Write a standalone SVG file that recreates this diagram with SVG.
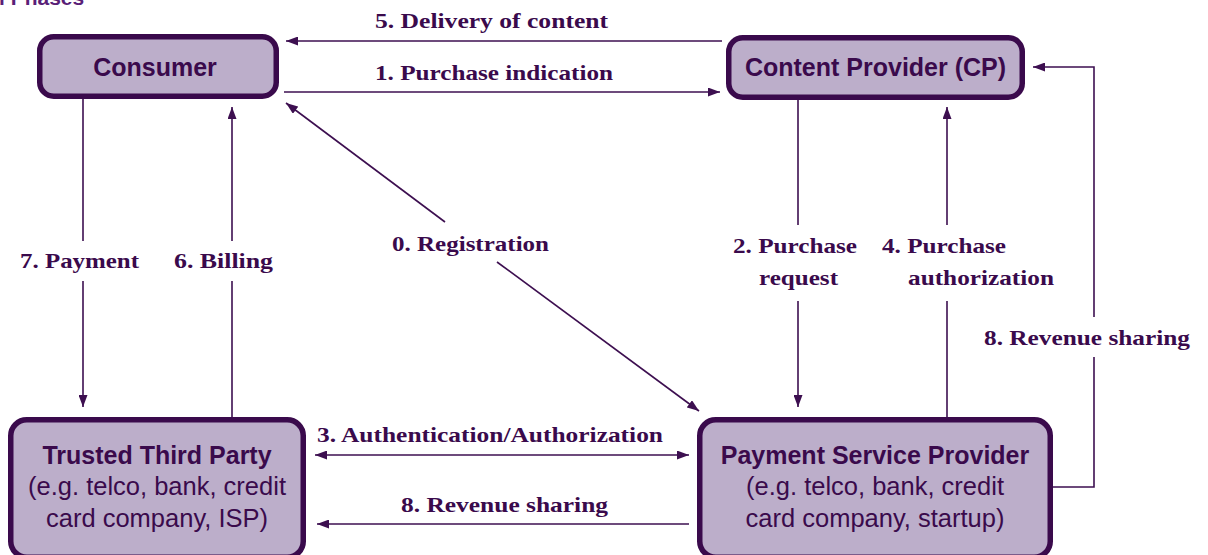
<svg xmlns="http://www.w3.org/2000/svg" width="1208" height="555" viewBox="0 0 1208 555">
  <style>
    .box { fill: #bcaeca; stroke: #3a0a4c; stroke-width: 5.5; }
    .title { font-family: "Liberation Sans", Arial, sans-serif; font-weight: bold; font-size: 25px; fill: #3a0a4c; text-anchor: middle; }
    .sub { font-family: "Liberation Sans", Arial, sans-serif; font-size: 25.5px; fill: #3a0a4c; text-anchor: middle; }
    .wire { fill: none; stroke: #3d0f50; stroke-width: 1.6; }
    .lbl { font-family: "Liberation Serif", "Times New Roman", serif; font-weight: bold; font-size: 22px; fill: #3a0a4c; }
    .head { font-family: "Liberation Sans", Arial, sans-serif; font-weight: bold; font-size: 21px; fill: #5a1f78; }
  </style>
  <defs>
    <marker id="arr" viewBox="0 0 12 9" refX="12" refY="4.5" markerWidth="12" markerHeight="9" markerUnits="userSpaceOnUse" orient="auto-start-reverse">
      <path d="M0,0 L12,4.5 L0,9 z" fill="#3d0f50"/>
    </marker>
  </defs>

  <rect width="1208" height="555" fill="#ffffff"/>

  <!-- heading, clipped at the top edge -->
  <text class="head" x="-1" y="5">l Phases</text>

  <!-- nodes -->
  <g id="consumer">
    <rect class="box" x="39.75" y="36.75" width="236.5" height="59.5" rx="14"/>
    <text class="title" x="155" y="76">Consumer</text>
  </g>
  <g id="content-provider">
    <rect class="box" x="728.75" y="37.75" width="293.5" height="59.5" rx="14"/>
    <text class="title" x="875.5" y="76">Content Provider (CP)</text>
  </g>
  <g id="trusted-third-party">
    <rect class="box" x="10.75" y="419.75" width="292.5" height="137.5" rx="16"/>
    <text class="title" x="157" y="464">Trusted Third Party</text>
    <text class="sub" x="157" y="495">(e.g. telco, bank, credit</text>
    <text class="sub" x="157" y="527">card company, ISP)</text>
  </g>
  <g id="payment-service-provider">
    <rect class="box" x="699.75" y="419.75" width="350.5" height="137.5" rx="16"/>
    <text class="title" x="875" y="464">Payment Service Provider</text>
    <text class="sub" x="875" y="495">(e.g. telco, bank, credit</text>
    <text class="sub" x="875" y="527">card company, startup)</text>
  </g>

  <!-- connectors -->
  <g id="connectors">
    <!-- 5. delivery of content -->
    <path class="wire" d="M722,41 H286" marker-end="url(#arr)"/>
    <!-- 1. purchase indication -->
    <path class="wire" d="M284,92 H720" marker-end="url(#arr)"/>
    <!-- 0. registration (two-way, broken by its label) -->
    <path class="wire" d="M445,222 L286,103" marker-end="url(#arr)"/>
    <path class="wire" d="M497,262 L699,411" marker-end="url(#arr)"/>
    <!-- 7. payment -->
    <path class="wire" d="M83,99 V241"/>
    <path class="wire" d="M83,281 V407" marker-end="url(#arr)"/>
    <!-- 6. billing -->
    <path class="wire" d="M232,417 V281"/>
    <path class="wire" d="M232,241 V107" marker-end="url(#arr)"/>
    <!-- 2. purchase request -->
    <path class="wire" d="M798,100 V225"/>
    <path class="wire" d="M798,301 V407" marker-end="url(#arr)"/>
    <!-- 4. purchase authorization -->
    <path class="wire" d="M947,417 V301"/>
    <path class="wire" d="M947,225 V107" marker-end="url(#arr)"/>
    <!-- 8. revenue sharing PSP -> CP -->
    <path class="wire" d="M1053,487 H1094 V357"/>
    <path class="wire" d="M1094,317 V67 H1033" marker-end="url(#arr)"/>
    <!-- 3. authentication / authorization -->
    <path class="wire" d="M315,455 H689" marker-start="url(#arr)" marker-end="url(#arr)"/>
    <!-- 8. revenue sharing PSP -> TTP -->
    <path class="wire" d="M689,524 H317" marker-end="url(#arr)"/>

    <!-- labels -->
    <text class="lbl" x="375" y="28" textLength="233" lengthAdjust="spacingAndGlyphs">5. Delivery of content</text>
    <text class="lbl" x="375" y="80" textLength="238" lengthAdjust="spacingAndGlyphs">1. Purchase indication</text>
    <text class="lbl" x="392" y="251" textLength="157" lengthAdjust="spacingAndGlyphs">0. Registration</text>
    <text class="lbl" x="20" y="268" textLength="119" lengthAdjust="spacingAndGlyphs">7. Payment</text>
    <text class="lbl" x="174" y="268" textLength="99" lengthAdjust="spacingAndGlyphs">6. Billing</text>
    <text class="lbl" x="733" y="253" textLength="124" lengthAdjust="spacingAndGlyphs">2. Purchase</text>
    <text class="lbl" x="759" y="285" textLength="79" lengthAdjust="spacingAndGlyphs">request</text>
    <text class="lbl" x="882" y="253" textLength="124" lengthAdjust="spacingAndGlyphs">4. Purchase</text>
    <text class="lbl" x="908" y="285" textLength="146" lengthAdjust="spacingAndGlyphs">authorization</text>
    <text class="lbl" x="984" y="345" textLength="206" lengthAdjust="spacingAndGlyphs">8. Revenue sharing</text>
    <text class="lbl" x="317" y="442" textLength="346" lengthAdjust="spacingAndGlyphs">3. Authentication/Authorization</text>
    <text class="lbl" x="401" y="512" textLength="207" lengthAdjust="spacingAndGlyphs">8. Revenue sharing</text>
  </g>
</svg>
